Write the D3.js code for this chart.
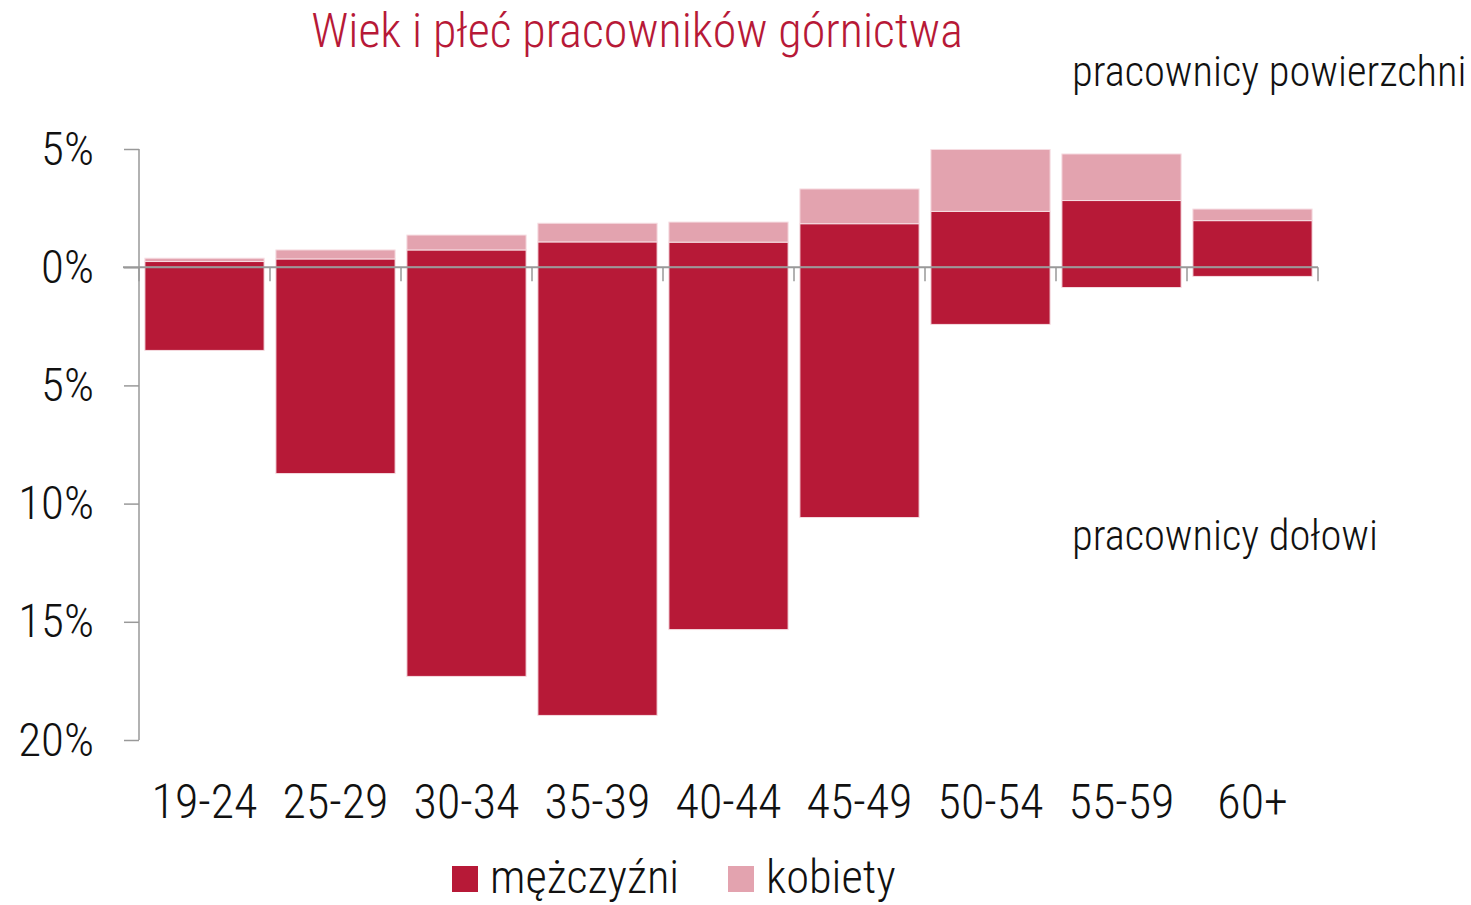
<!DOCTYPE html>
<html lang="pl">
<head>
<meta charset="UTF-8">
<title>Wiek i płeć pracowników górnictwa</title>
<script src="https://d3js.org/d3.v7.min.js"></script>
<style>
  body { margin: 0; background: #fff; }
  svg text { font-family: Roboto, "Noto Sans", sans-serif; font-weight: 300; font-stretch: condensed; }
</style>
</head>
<body>
<div id="chart"></div>
<script>
// age groups
var categories = ["19-24", "25-29", "30-34", "35-39", "40-44", "45-49", "50-54", "55-59", "60+"];
// surface workers (% of all), men and women
var surfaceMen   = [0.24, 0.35, 0.73, 1.07, 1.06, 1.84, 2.36, 2.82, 1.97];
var surfaceWomen = [0.14, 0.38, 0.63, 0.79, 0.85, 1.47, 2.62, 1.97, 0.49];
// underground workers (% of all), men
var undergroundMen = [3.52, 8.73, 17.31, 18.96, 15.33, 10.59, 2.42, 0.86, 0.39];
var yTicks = [-20, -15, -10, -5, 0, 5];
var legendLabels = ["mężczyźni", "kobiety"];

var dark = "#b71937", pink = "#e3a3af", axisGrey = "#999";
var width = 1471, height = 905;

var svg = d3.select("#chart").append("svg")
    .attr("width", width).attr("height", height);

var x = d3.scaleBand().domain(categories).range([139, 1318])
    .paddingInner(0.09).paddingOuter(0.045);
var y = d3.scaleLinear().domain([-20, 5]).range([740, 149]);

var bars = svg.append("g");
categories.forEach(function (c, i) {
    var m = surfaceMen[i], w = surfaceWomen[i], u = undergroundMen[i];
    // underground (below zero)
    bars.append("rect")
        .attr("x", x(c)).attr("width", x.bandwidth())
        .attr("y", y(0)).attr("height", y(-u) - y(0))
        .attr("fill", dark);
    // surface men
    bars.append("rect")
        .attr("x", x(c)).attr("width", x.bandwidth())
        .attr("y", y(m)).attr("height", y(0) - y(m))
        .attr("fill", dark);
    // surface women on top
    bars.append("rect")
        .attr("x", x(c)).attr("width", x.bandwidth())
        .attr("y", y(m + w)).attr("height", y(m) - y(m + w))
        .attr("fill", pink);
});
bars.selectAll("rect").attr("stroke", "#f6dde2").attr("stroke-width", 1);

// y axis
var yAxis = svg.append("g").attr("transform", "translate(139,0)")
    .call(d3.axisLeft(y).tickValues(yTicks).tickSize(15).tickPadding(30)
        .tickFormat(function (d) { return Math.abs(d) + "%"; }));
yAxis.select(".domain").attr("stroke", axisGrey).attr("stroke-width", 1.5).attr("d", "M0," + y(5) + "V" + y(-20));
yAxis.selectAll(".tick line").attr("stroke", axisGrey).attr("stroke-width", 1.5);
yAxis.selectAll(".tick text").attr("font-size", 47).attr("fill", "#111")
    .attr("font-family", null);

// zero line with category ticks
var zero = svg.append("g").attr("transform", "translate(0," + y(0) + ")");
zero.append("line").attr("x1", 123).attr("x2", 1318)
    .attr("stroke", axisGrey).attr("stroke-width", 2);
var bounds = categories.map(function (c) { return x(c) - x.step() * x.paddingInner() / 2; });
bounds.push(1318);
zero.selectAll(".bt").data(bounds).enter().append("line")
    .attr("x1", function (d) { return d; }).attr("x2", function (d) { return d; })
    .attr("y1", 0).attr("y2", 14)
    .attr("stroke", axisGrey).attr("stroke-width", 1.5);

// category labels
svg.append("g").selectAll("text").data(categories).enter().append("text")
    .attr("x", function (c) { return x(c) + x.bandwidth() / 2; })
    .attr("y", 818)
    .attr("text-anchor", "middle")
    .attr("font-size", 48).attr("fill", "#111")
    .text(function (c) { return c; });

// title and annotations
svg.append("text").attr("x", 637).attr("y", 47).attr("text-anchor", "middle")
    .attr("font-size", 48).attr("fill", dark)
    .text("Wiek i płeć pracowników górnictwa");
svg.append("text").attr("x", 1072).attr("y", 86)
    .attr("font-size", 42.5).attr("fill", "#111")
    .text("pracownicy powierzchni");
svg.append("text").attr("x", 1072).attr("y", 550)
    .attr("font-size", 42.5).attr("fill", "#111")
    .text("pracownicy dołowi");

// legend
var legend = svg.append("g").attr("transform", "translate(452,866)");
var lx = [0, 276];
legendLabels.forEach(function (t, i) {
    var g = legend.append("g").attr("transform", "translate(" + lx[i] + ",0)");
    g.append("rect").attr("width", 26).attr("height", 26).attr("fill", i === 0 ? dark : pink);
    g.append("text").attr("x", 38).attr("y", 27).attr("font-size", 46.5).attr("fill", "#111").text(t);
});
</script>
</body>
</html>
